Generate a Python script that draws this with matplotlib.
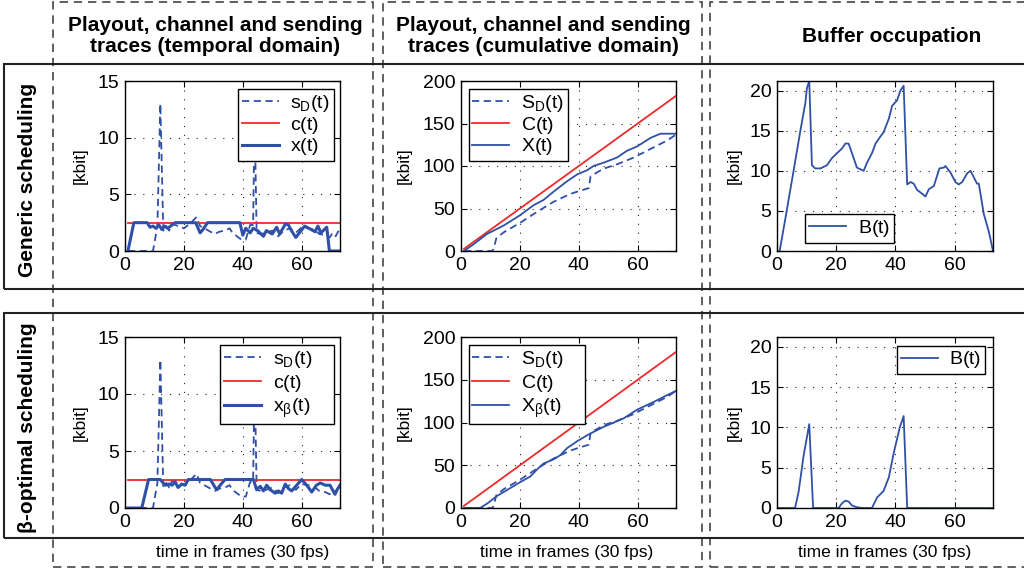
import matplotlib
matplotlib.use('Agg')
import matplotlib.pyplot as plt
from matplotlib.patches import Rectangle

plt.rcParams['font.family'] = ['Liberation Sans', 'DejaVu Sans']
plt.rcParams['mathtext.fontset'] = 'custom'
plt.rcParams['mathtext.rm'] = 'Liberation Sans'
plt.rcParams['mathtext.it'] = 'Liberation Sans:italic'
plt.rcParams['mathtext.bf'] = 'Liberation Sans:bold'

# ---- data (time in frames, values in kbit) ----
# playout trace s_D(t), same for both schedulers
sd_t = [1, 9.5, 11, 12, 13, 14, 15, 16, 18, 20, 22, 24.3, 25.5, 27, 29, 30.5, 32, 34,
        35.5, 36.5, 38, 39.5, 41, 42.5, 43.5, 44, 44.7, 46, 48, 50, 52, 54, 56, 58, 60,
        62, 64, 66, 68, 69.5, 70.5, 71.5, 73]
sd_v = [0, 0, 2.2, 13, 1.8, 2.2, 1.8, 2.4, 2.2, 2.0, 2.4, 3.0, 2.2, 2.0, 1.7, 1.5, 1.7, 1.8,
        2.0, 1.6, 1.3, 1.0, 1.0, 2.3, 2.3, 12, 1.6, 1.5, 1.6, 1.8, 1.3, 1.8, 2.0, 1.6, 2.1,
        2.0, 1.9, 1.5, 1.4, 1.2, 1.6, 1.3, 2.0]

# channel c(t) and cumulative C(t)
c_t = [1, 73]
c_v = [2.5, 2.5]
cc_t = [1, 73]
cc_v = [2.5, 182.5]

# generic sending trace x(t)
x_t = [1, 3, 7.5, 8.5, 9.5, 10.5, 11.5, 12.5, 13.5, 14.5, 15.5, 17, 24, 25.5, 26.5, 28,
       39, 40, 41, 42.5, 43.5, 45, 47, 48, 50, 51.5, 52.5, 54.5, 55.5, 56.5, 58, 61,
       62.5, 64.5, 65.5, 66.5, 68.5, 69.4, 73]
x_v = [0, 2.5, 2.5, 2.1, 2.2, 2.0, 2.3, 1.9, 2.2, 2.0, 2.2, 2.5, 2.5, 1.6, 1.9, 2.5,
       2.5, 1.4, 2.0, 1.6, 2.0, 1.8, 1.3, 1.8, 1.5, 2.1, 1.5, 2.4, 2.3, 1.8, 1.2, 2.2,
       2.0, 1.7, 2.2, 1.6, 2.1, 0, 0]

# beta-optimal sending trace x_beta(t)
xb_t = [1, 5.7, 8, 12, 13.6, 15, 16, 17, 18, 19.3, 20.4, 21.5, 29, 30.6, 31.2, 32.3, 34,
        43.6, 44.7, 45.9, 47, 48.1, 49.3, 51, 52.1, 53.2, 54.4, 55.5, 56.6, 58.3, 60,
        61.7, 63.4, 65, 66.3, 68, 69.6, 71.3, 72, 73]
xb_v = [0, 0, 2.5, 2.5, 2.0, 2.1, 2.0, 2.3, 1.8, 2.1, 2.0, 2.5, 2.5, 1.8, 1.6, 2.0, 2.5,
        2.5, 1.6, 1.9, 1.5, 2.0, 1.6, 1.3, 1.5, 1.3, 2.1, 1.7, 1.5, 2.0, 2.5,
        2.0, 1.4, 2.0, 2.2, 2.0, 2.0, 1.2, 1.6, 2.0]

# cumulative traces
csd_t = [1, 10.6, 11, 12, 14.5, 20, 25.8, 31.5, 37, 40.5, 43.4, 44, 48.5, 53, 58.7, 64.3, 70, 73]
csd_v = [0, 0, 2, 15, 22, 33, 46, 58, 67, 71, 74, 88, 97, 102, 110, 120, 130, 137]

cx_t = [1, 4.3, 8.8, 14.5, 20, 24.7, 28, 31.5, 36, 39.4, 42.8, 45, 48.5, 53, 56.4, 59.8,
        64.3, 67.7, 73]
cx_v = [0, 8, 20, 30, 42, 54, 60, 70, 82, 90, 95, 100, 104, 110, 118, 123, 133, 138, 138]

cxb_t = [1, 6.5, 8.8, 12.2, 15.6, 20, 23.6, 25.8, 28, 31.5, 33.8, 36, 39.4, 42.8, 45,
         48.5, 51.9, 55.3, 59.8, 65.4, 70, 73]
cxb_v = [0, 0, 5, 14, 21, 30, 37, 45, 52, 57, 62, 70, 78, 85, 89, 95, 100, 105, 115, 124,
         132, 137]

# buffer occupation
b_t = [0.9, 2.8, 5.6, 7.9, 9.6, 10.1, 10.9, 11.8, 12.9, 14.7, 16.9, 18.6, 20.3, 22, 23.1,
       24.2, 25.9, 27, 29.3, 30.4, 32.1, 33.3, 35, 36, 37.8, 38.9, 40.6, 41.7, 42.8, 44,
       45.1, 46.2, 47.4, 48.5, 50.2, 51.3, 53, 54.9, 56.4, 56.9, 58.6, 60.3, 61.4, 62.6,
       64.3, 65.4, 67.6, 68.2, 69.9, 71.6, 73]
b_v = [0, 4, 10, 15, 18.5, 20.3, 21.2, 10.7, 10.3, 10.3, 10.7, 11.6, 12.2, 12.8, 13.4,
       13.4, 11.6, 10.4, 10.0, 11.0, 12.2, 13.4, 14.3, 14.8, 16.5, 18.1, 18.8, 20.0, 20.6,
       8.3, 8.6, 8.4, 7.6, 7.3, 6.8, 7.7, 8.1, 10.3, 10.4, 10.6, 9.8, 8.6, 8.3, 8.6,
       9.7, 10.0, 8.4, 8.4, 4.6, 2.4, 0]

bb_t = [0, 6.1, 7.3, 9, 10.9, 12.2, 20.8, 22, 23.1, 24.2, 25.4, 27, 28.7, 32.1, 33.8, 36,
        37.8, 39.5, 41.5, 42.8, 44, 73]
bb_v = [0, 0, 2, 6.5, 10.4, 0, 0, 0.6, 0.9, 0.8, 0.3, 0.1, 0, 0, 1.3, 2.1,
        3.8, 6.9, 10, 11.4, 0, 0]

col_titles = ['Playout, channel and sending\ntraces (temporal domain)',
              'Playout, channel and sending\ntraces (cumulative domain)',
              'Buffer occupation']
row_titles = ['Generic scheduling', 'β-optimal scheduling']

BLUE = '#3050a8'
RED = '#ee2a2a'
W, H = 1024, 571

fig = plt.figure(figsize=(W / 100, H / 100), dpi=100)


def px_rect(x0, y0, x1, y1, **kw):
    r = Rectangle((x0 / W, 1 - y1 / H), (x1 - x0) / W, (y1 - y0) / H,
                  transform=fig.transFigure, fill=False, **kw)
    fig.add_artist(r)


# dashed column frames and solid row frames
for x0, x1 in [(53, 373), (383, 702), (710, 1030)]:
    px_rect(x0, 2, x1, 567, lw=1.2, ls=(0, (5, 3.5)), edgecolor='#444444')
for y0, y1 in [(64, 289), (313, 538)]:
    px_rect(4, y0, 1030, y1, lw=1.5, edgecolor='#222222')

cols_px = [(125, 340), (461, 676), (777, 993)]
rows_px = [(81, 251), (337, 508)]


def make_ax(r, c):
    (l, rr), (t, b) = cols_px[c], rows_px[r]
    ax = fig.add_axes([l / W, 1 - b / H, (rr - l) / W, (b - t) / H])
    ax.tick_params(direction='in', top=True, right=True, labelsize=14, length=4, pad=4)
    ax.grid(True, ls=(0, (1, 7)), color='#222222', lw=0.8)
    for s in ax.spines.values():
        s.set_linewidth(1.0)
    ax.set_xlim(0, 73)
    ax.set_xticks([0, 20, 40, 60])
    return ax


def style_legend(leg):
    leg.get_frame().set_edgecolor('black')
    leg.get_frame().set_linewidth(1.0)
    leg.set_zorder(10)


LEG = dict(fontsize=14, fancybox=False, framealpha=1, handlelength=1.9,
           handletextpad=0.6, borderpad=0.2, borderaxespad=0)
lab_x = [-0.172, -0.228, -0.162]
# row 2 legends are wider and a bit taller in the original
pad_sp = [('', ''), ('    ', '    ')]
spacing = [0.05, 0.15]
x_labels = [r'$\mathrm{x(t)}$', r'$\mathrm{x_\beta(t)}$']
X_labels = [r'$\mathrm{X(t)}$', r'$\mathrm{X_\beta(t)}$']
send = [(x_t, x_v), (xb_t, xb_v)]
csend = [(cx_t, cx_v), (cxb_t, cxb_v)]
buf = [(b_t, b_v), (bb_t, bb_v)]
buf_leg = [dict(loc='lower left', bbox_to_anchor=(0.13, 0.05)),
           dict(loc='upper right', bbox_to_anchor=(0.965, 0.95))]

for r in range(2):
    # temporal domain
    ax = make_ax(r, 0)
    ax.plot(sd_t, sd_v, color=BLUE, lw=1.3, ls=(0, (4, 2.5)),
            label=r'$\mathrm{s_D(t)}$' + pad_sp[r][0])
    ax.plot(c_t, c_v, color=RED, lw=1.3, label=r'$\mathrm{c(t)}$')
    ax.plot(*send[r], color=BLUE, lw=2.2, label=x_labels[r])
    ax.set_ylim(0, 15)
    ax.set_yticks([0, 5, 10, 15])
    leg = ax.legend(loc='upper right', bbox_to_anchor=(0.97, 0.955),
                    labelspacing=spacing[r], **LEG)
    style_legend(leg)
    ax.set_ylabel('[kbit]', fontsize=12.5)
    ax.yaxis.set_label_coords(lab_x[0], 0.5)

    # cumulative domain
    ax = make_ax(r, 1)
    ax.plot(csd_t, csd_v, color=BLUE, lw=1.3, ls=(0, (4, 2.5)),
            label=r'$\mathrm{S_D(t)}$' + pad_sp[r][1])
    ax.plot(cc_t, cc_v, color=RED, lw=1.3, label=r'$\mathrm{C(t)}$')
    ax.plot(*csend[r], color=BLUE, lw=1.3, label=X_labels[r])
    ax.set_ylim(0, 200)
    ax.set_yticks([0, 50, 100, 150, 200])
    leg = ax.legend(loc='upper left', bbox_to_anchor=(0.035, 0.955),
                    labelspacing=spacing[r], **LEG)
    style_legend(leg)
    ax.set_ylabel('[kbit]', fontsize=12.5)
    ax.yaxis.set_label_coords(lab_x[1], 0.5)

    # buffer occupation
    ax = make_ax(r, 2)
    ax.plot(*buf[r], color=BLUE, lw=1.3, label=r'$\mathrm{B(t)}$')
    ax.set_ylim(0, 21.2)
    ax.set_yticks([0, 5, 10, 15, 20])
    leg = ax.legend(**buf_leg[r], **LEG)
    style_legend(leg)
    ax.set_ylabel('[kbit]', fontsize=12.5)
    ax.yaxis.set_label_coords(lab_x[2], 0.5)

# headers and row labels
for xc, txt in zip([215, 543, 892], col_titles):
    fig.text(xc / W, 1 - 36 / H, txt, ha='center', va='center', fontsize=15,
             fontweight='bold', linespacing=1.1)
for yc, txt in zip([180, 428], row_titles):
    fig.text(28 / W, 1 - yc / H, txt, ha='center', va='center', rotation=90,
             fontsize=15, fontweight='bold')
for xc in [243, 567, 885]:
    fig.text(xc / W, 1 - 553 / H, 'time in frames (30 fps)', ha='center', va='center',
             fontsize=12.5)

fig.savefig('out.png', dpi=100)
